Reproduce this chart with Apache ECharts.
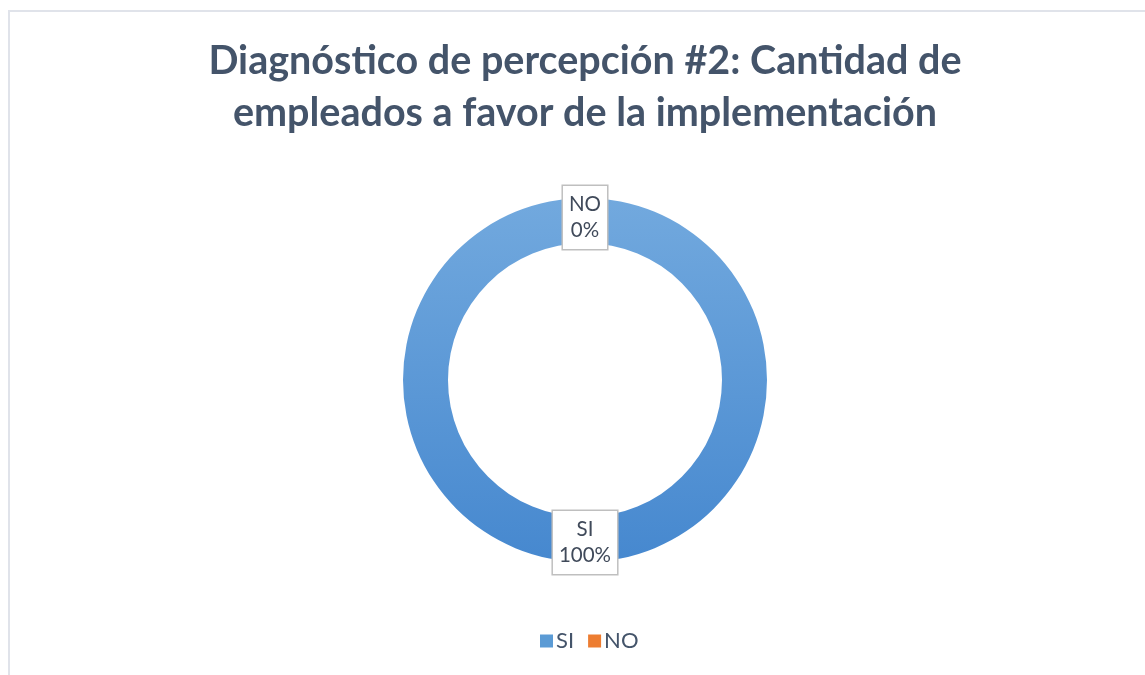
<!DOCTYPE html>
<html>
<head>
<meta charset="utf-8">
<script src="https://cdn.jsdelivr.net/npm/echarts@6/dist/echarts.min.js"></script>
<style>
  html, body { margin: 0; padding: 0; background: #fff; }
  #chart { width: 1145px; height: 675px; }
  #frame { position: absolute; left: 8px; top: 10px; width: 1150px; height: 680px; border: 2px solid #e0e3ea; box-sizing: border-box; }
</style>
</head>
<body>
<div id="frame"></div>
<div id="chart" style="position:absolute;left:0;top:0;"></div>
<script>
// chart data
const titleText = 'Diagnóstico de percepción #2: Cantidad de\nempleados a favor de la implementación';
const categories = ['SI', 'NO'];
const values = [100, 0];
const colors = ['#5b9bd5', '#ed7d31'];

const chart = echarts.init(document.getElementById('chart'));

const pieData = categories.map((name, i) => ({
  name,
  value: values[i],
  itemStyle: {
    color: i === 0
      ? new echarts.graphic.LinearGradient(0, 0, 0, 1, [
          { offset: 0, color: '#72a9de' },
          { offset: 1, color: '#4688cf' }
        ])
      : colors[i]
  }
}));

chart.setOption({
  title: {
    text: titleText,
    left: 585,
    textAlign: 'center',
    top: 35,
    padding: 0,
    textStyle: {
      fontFamily: 'Lato',
      fontWeight: 'bold',
      fontSize: 39.5,
      lineHeight: 52,
      color: '#44546a'
    }
  },
  legend: {
    bottom: 18,
    left: 535,
    itemWidth: 13,
    itemHeight: 13,
    itemGap: 14,
    icon: 'rect',
    data: categories.map((name, i) => ({ name, itemStyle: { color: colors[i] } })),
    textStyle: { fontFamily: 'Lato', fontSize: 22, color: '#44546a', padding: [0, 0, 0, -2] }
  },
  series: [{
    type: 'pie',
    center: [585, 380],
    radius: [137, 182],
    startAngle: 90,
    clockwise: true,
    silent: true,
    minShowLabelAngle: 0,
    avoidLabelOverlap: false,
    data: pieData,
    label: {
      show: true,
      position: 'inside',
      formatter: '{b}\n{d}%',
      fontFamily: 'Lato',
      fontSize: 20.5,
      lineHeight: 26,
      color: '#404a5a',
      backgroundColor: '#fff',
      borderColor: '#bfbfbf',
      borderWidth: 1.5,
      padding: [6, 6, 5, 6]
    },
    labelLine: { show: false }
  }]
});
</script>
</body>
</html>
